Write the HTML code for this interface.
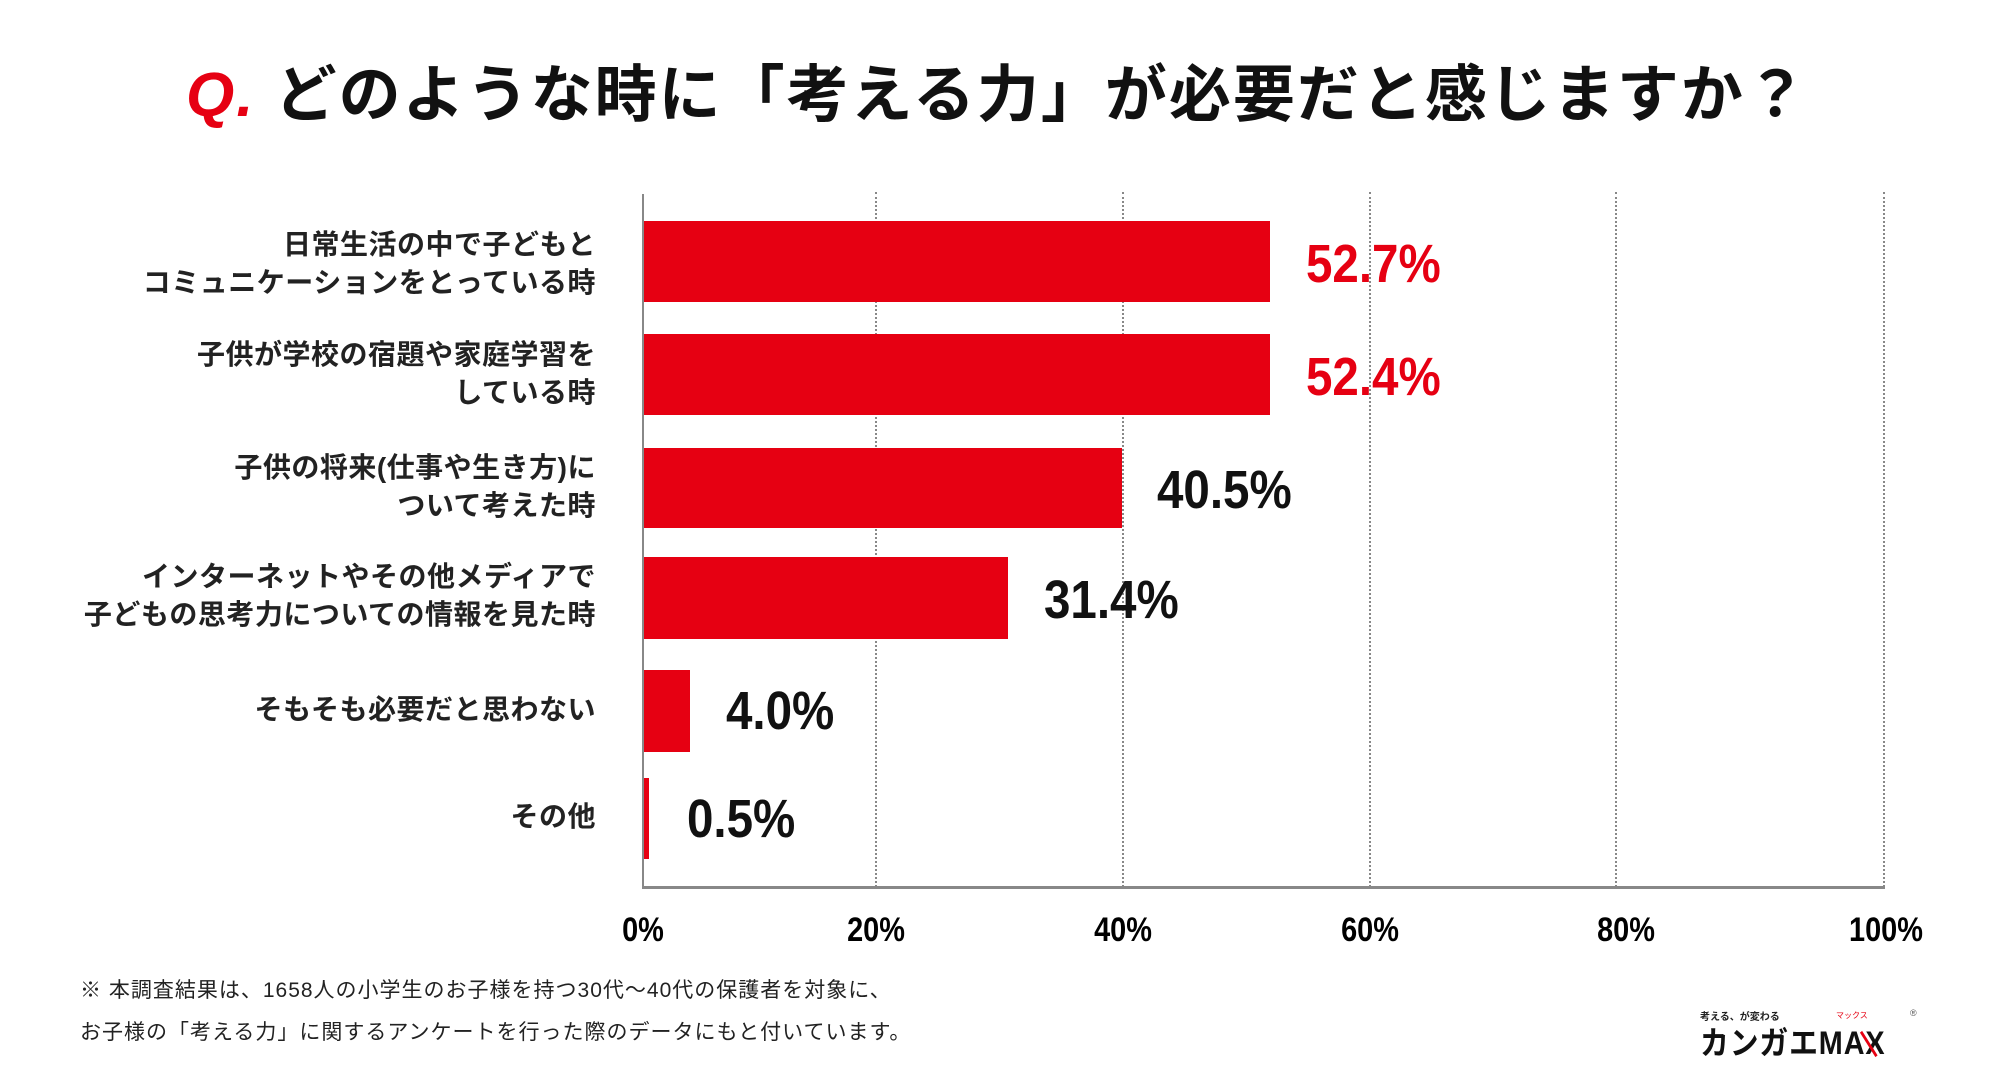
<!DOCTYPE html>
<html><head><meta charset="utf-8"><style>
body{margin:0;width:1999px;height:1091px;background:#fff;position:relative;overflow:hidden;font-family:"Liberation Sans","Noto Sans CJK JP",sans-serif;}
.a{position:absolute;}
.title{left:186px;top:58px;font-size:62px;font-weight:700;white-space:nowrap;color:#111;letter-spacing:2px;line-height:76px;}
.lab{right:1403px;font-size:28px;font-weight:700;text-align:right;line-height:38px;white-space:nowrap;color:#222;letter-spacing:0.5px;}
.bar{left:644px;background:#e60012;}
.val{font-size:54px;font-weight:700;line-height:54px;transform:scaleX(0.88);transform-origin:left center;white-space:nowrap;}
.grid{top:192px;height:695px;border-left:2px dotted #888;width:0;}
.tick{top:912px;font-size:34px;font-weight:700;width:120px;text-align:center;transform:scaleX(0.85);line-height:36px;}
.foot{left:80px;font-size:21px;color:#222;white-space:nowrap;letter-spacing:1px;}
</style></head><body>
<div class="a title"><span style="color:#e60012;font-style:italic;">Q.</span> どのような時に「考える力」が必要だと感じますか？</div>

<div class="a grid" style="left:875px"></div>
<div class="a grid" style="left:1122px"></div>
<div class="a grid" style="left:1369px"></div>
<div class="a grid" style="left:1615px"></div>
<div class="a grid" style="left:1883px"></div>
<div class="a" style="left:642px;top:194px;width:2px;height:694px;background:#888"></div>
<div class="a" style="left:642px;top:886px;width:1243px;height:3px;background:#888"></div>

<div class="a bar" style="top:221px;height:81px;width:626px"></div>
<div class="a bar" style="top:334px;height:81px;width:626px"></div>
<div class="a bar" style="top:448px;height:80px;width:478px"></div>
<div class="a bar" style="top:557px;height:82px;width:364px"></div>
<div class="a bar" style="top:670px;height:82px;width:46px"></div>
<div class="a bar" style="top:778px;height:81px;width:5px"></div>

<div class="a val" style="left:1306px;top:237px;color:#e60012">52.7%</div>
<div class="a val" style="left:1306px;top:350px;color:#e60012">52.4%</div>
<div class="a val" style="left:1157px;top:463px;color:#111">40.5%</div>
<div class="a val" style="left:1044px;top:573px;color:#111">31.4%</div>
<div class="a val" style="left:726px;top:684px;color:#111">4.0%</div>
<div class="a val" style="left:687px;top:792px;color:#111">0.5%</div>

<div class="a lab" style="top:226px">日常生活の中で子どもと<br>コミュニケーションをとっている時</div>
<div class="a lab" style="top:336px">子供が学校の宿題や家庭学習を<br>している時</div>
<div class="a lab" style="top:449px">子供の将来(仕事や生き方)に<br>ついて考えた時</div>
<div class="a lab" style="top:558px">インターネットやその他メディアで<br>子どもの思考力についての情報を見た時</div>
<div class="a lab" style="top:691px">そもそも必要だと思わない</div>
<div class="a lab" style="top:798px">その他</div>

<div class="a tick" style="left:583px">0%</div>
<div class="a tick" style="left:816px">20%</div>
<div class="a tick" style="left:1063px">40%</div>
<div class="a tick" style="left:1310px">60%</div>
<div class="a tick" style="left:1566px">80%</div>
<div class="a tick" style="left:1826px">100%</div>

<div class="a foot" style="top:974px">※ 本調査結果は、1658人の小学生のお子様を持つ30代～40代の保護者を対象に、</div>
<div class="a foot" style="top:1016px">お子様の「考える力」に関するアンケートを行った際のデータにもと付いています。</div>

<div class="a" style="left:1700px;top:1008px;font-size:10px;font-weight:700;color:#222;">考える、が変わる</div>
<div class="a" style="left:1700px;top:1018px;font-size:32px;font-weight:700;color:#111;letter-spacing:1px;white-space:nowrap;transform:scaleX(0.9);transform-origin:left;">カンガエMA<span style="color:#111;position:relative">X<span style="position:absolute;left:2px;top:4px;width:3px;height:30px;background:#e60012;transform:rotate(-35deg)"></span></span></div>
<div class="a" style="left:1836px;top:1010px;font-size:8px;color:#e60012;">マックス</div>
<div class="a" style="left:1910px;top:1008px;font-size:9px;color:#555;">®</div>
</body></html>
